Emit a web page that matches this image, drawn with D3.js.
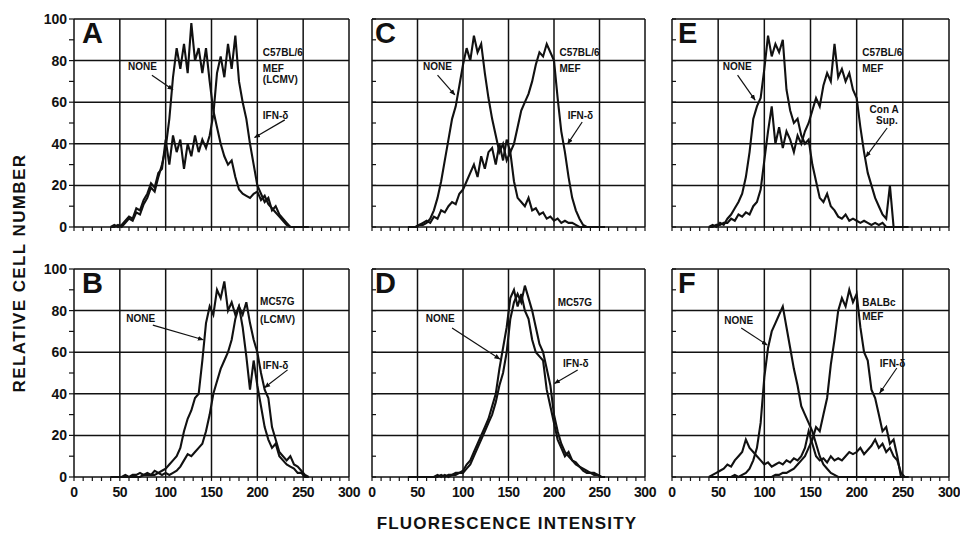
<!DOCTYPE html>
<html>
<head>
<meta charset="utf-8">
<script src="https://cdn.jsdelivr.net/npm/d3@7"></script>
<style>
  body { margin: 0; background: #fff; }
  text { font-family: "Liberation Sans", Arial, sans-serif; fill: #111; }
</style>
</head>
<body>
<svg id="chart" width="960" height="533"></svg>
<script>
var xStart = 40, xStep = 4;
var xTicks = [0, 50, 100, 150, 200, 250, 300];
var yTicks = [0, 20, 40, 60, 80, 100];

// A: C57BL/6 MEF (LCMV)
var aNone = [0,0,1,0,2, 4,3,7,6,11, 14,19,17,24,30, 38,52,72,86,76, 88,74,98,80,86,
             74,86,70,56,48, 40,34,30,32,24, 18,16,15,14,16, 17,13,15,11,9, 7,5,3,1,0, 0,0,0,0,0];
var aIfn  = [0,1,0,1,3, 5,4,9,8,13, 16,21,19,26,28, 42,30,44,36,42, 28,40,34,44,36,
             42,38,44,54,74, 82,72,88,76,92, 70,60,52,40,30, 20,16,12,14,8, 10,6,4,2,0, 0,0,0,0,0];
// C: C57BL/6 MEF
var cNone = [0,0,0,1,1, 2,4,8,14,22, 32,42,52,58,68, 78,86,80,92,84, 88,74,62,52,44,
             36,40,32,36,22, 14,12,10,14,8, 9,6,7,4,5, 3,4,2,3,2, 2,1,0,0,0, 0,0,0,0,0];
var cIfn  = [0,0,0,1,2, 3,2,5,4,8, 7,10,12,11,16, 18,22,26,30,24, 34,28,36,38,30,
             40,32,42,36,40, 48,56,60,64,70, 78,84,82,88,84, 80,62,46,36,24, 14,8,4,1,0, 0,0,0,0,0];
// E: C57BL/6 MEF, Con A supernatant
var eNone = [0,1,0,2,1, 4,6,9,12,16, 24,36,52,58,62, 76,92,82,88,84, 90,66,56,50,52,
             44,40,42,30,22, 14,12,16,10,8, 5,4,6,3,4, 3,2,3,2,1, 2,1,2,0,0, 0,0,0,0,0];
var eConA = [0,0,1,1,2, 2,4,3,6,5, 7,6,10,12,18, 32,46,58,40,48, 38,46,42,36,44,
             40,46,50,56,62, 58,68,74,70,88, 72,76,70,74,66, 62,48,36,26,20, 14,10,6,4,20, 0,0,0,0,0];
// B: MC57G (LCMV)
var bNone = [0,0,0,0,1, 0,1,1,2,1, 2,1,3,2,3, 4,6,8,10,14, 22,28,32,38,40,
             56,74,82,78,90, 86,94,80,84,78, 82,72,58,42,56, 44,34,24,18,14, 16,10,8,6,5, 4,2,2,0,0];
var bIfn  = [0,0,0,0,0, 0,0,0,0,1, 1,1,1,2,1, 2,1,2,3,5, 8,11,10,12,14,
             16,22,30,40,46, 52,56,60,66,76, 82,78,84,74,66, 60,50,42,38,24, 18,12,10,8,10, 6,5,3,1,0];
// D: MC57G
var dNone = [0,0,0,0,0, 0,0,0,1,0, 1,0,1,2,2, 3,6,8,12,16, 20,24,28,34,40,
             52,62,72,86,90, 82,88,80,76,66, 60,58,56,42,34, 26,18,14,10,12, 8,7,5,4,3, 2,2,1,0,0];
var dIfn  = [0,0,0,0,0, 0,0,0,0,1, 0,1,1,1,2, 2,4,6,10,14, 18,22,26,30,36,
             44,50,60,76,84, 88,84,92,86,80, 72,64,60,52,44, 30,22,16,12,10, 8,6,5,3,2, 2,1,1,0,0];
// F: BALBc MEF
var fNone = [0,0,0,0,0, 0,0,1,0,1, 2,4,8,14,26, 48,62,70,74,78, 82,72,62,52,44,
             34,30,26,22,16, 10,6,4,2,1, 0,0,0,0,0, 0,0,0,0,0, 0,0,0,0,0, 0,0,0,0,0];
var fIfn  = [0,0,0,0,0, 0,0,0,0,0, 0,0,0,0,0, 0,0,0,1,1, 2,2,3,4,6,
             8,10,14,18,24, 22,30,38,54,66, 80,86,82,90,84, 88,72,60,56,42, 38,30,22,24,16, 18,10,0,0,0];
var fLow  = [0,1,2,3,4, 6,5,8,10,12, 18,14,12,10,8, 6,7,5,6,7, 6,8,7,9,8,
             10,14,22,16,10, 8,9,7,10,8, 9,8,10,12,11, 12,14,11,13,15, 18,14,16,12,14, 10,8,2,0,0];

var cols = [{left: 74, w: 275, letterDx: 8}, {left: 372, w: 273, letterDx: 3}, {left: 672, w: 277, letterDx: 6}];
var rows = [{top: 19}, {top: 269}];
var panelH = 208;

// notes: text at data coords, arrows from/to data coords
var panels = [
  {id: "A", col: 0, row: 0, series: [aNone, aIfn],
   notes: [["C57BL/6", 206, 82], ["MEF", 206, 74.5], ["(LCMV)", 206, 69], ["NONE", 59, 75.5], ["IFN-δ", 206, 52]],
   arrows: [[85, 73, 108, 66], [230, 51.5, 197, 43]]},
  {id: "C", col: 1, row: 0, series: [cNone, cIfn],
   notes: [["C57BL/6", 206, 82], ["MEF", 206, 74.5], ["NONE", 56, 75.5], ["IFN-δ", 215, 52]],
   arrows: [[72, 73, 91, 63.5], [231, 50.5, 215, 40]]},
  {id: "E", col: 2, row: 0, series: [eNone, eConA],
   notes: [["C57BL/6", 206, 82], ["MEF", 206, 74.5], ["NONE", 55, 75.5], ["Con A", 214, 55], ["Sup.", 221, 49.5]],
   arrows: [[71, 73, 90, 61], [233, 47.6, 210, 33.7]]},
  {id: "B", col: 0, row: 1, series: [bNone, bIfn],
   notes: [["MC57G", 203, 82.7], ["(LCMV)", 203, 74], ["NONE", 57, 74.5], ["IFN-δ", 206, 52]],
   arrows: [[86, 73, 141, 66], [233, 51.5, 208, 43]]},
  {id: "D", col: 1, row: 1, series: [dNone, dIfn],
   notes: [["MC57G", 204, 82], ["NONE", 59, 74.5], ["IFN-δ", 210, 53]],
   arrows: [[88, 71.6, 140.5, 56.7], [226, 51.4, 200.5, 45]]},
  {id: "F", col: 2, row: 1, series: [fNone, fIfn, fLow],
   notes: [["BALBc", 206, 82], ["MEF", 206, 75.5], ["NONE", 56.5, 73.5], ["IFN-δ", 225, 53]],
   arrows: [[75, 71.6, 103, 63.5], [243.5, 52.4, 225, 40.4]]}
];

var svg = d3.select("#chart");

svg.append("defs").append("marker")
    .attr("id", "head")
    .attr("viewBox", "0 0 10 10")
    .attr("refX", 9).attr("refY", 5)
    .attr("markerWidth", 5).attr("markerHeight", 5)
    .attr("orient", "auto")
  .append("path")
    .attr("d", "M0,1L10,5L0,9Z")
    .attr("fill", "#111");

panels.forEach(function(p) {
    var c = cols[p.col], r = rows[p.row];
    var x = d3.scaleLinear().domain([0, 300]).range([0, c.w]);
    var y = d3.scaleLinear().domain([0, 100]).range([panelH, 0]);
    var g = svg.append("g").attr("transform", "translate(" + c.left + "," + r.top + ")");

    // grid
    g.selectAll(".vg").data(xTicks).enter().append("line")
        .attr("x1", function(d) { return x(d); }).attr("x2", function(d) { return x(d); })
        .attr("y1", 0).attr("y2", panelH)
        .attr("stroke", "#111").attr("stroke-width", 1.5);
    g.selectAll(".hg").data(yTicks).enter().append("line")
        .attr("x1", 0).attr("x2", c.w)
        .attr("y1", function(d) { return y(d); }).attr("y2", function(d) { return y(d); })
        .attr("stroke", "#111").attr("stroke-width", 1.5);

    // minor ticks every 10
    g.selectAll(".xt").data(d3.range(0, 301, 10)).enter().append("line")
        .attr("x1", function(d) { return x(d); }).attr("x2", function(d) { return x(d); })
        .attr("y1", panelH).attr("y2", panelH + 4)
        .attr("stroke", "#111").attr("stroke-width", 1.2);
    var tickDir = p.col === 0 ? -5 : 4;
    g.selectAll(".yt").data(d3.range(0, 101, 10)).enter().append("line")
        .attr("x1", 0).attr("x2", tickDir)
        .attr("y1", function(d) { return y(d); }).attr("y2", function(d) { return y(d); })
        .attr("stroke", "#111").attr("stroke-width", 1.2);

    if (p.col === 0) {
        g.selectAll(".yl").data(yTicks).enter().append("text")
            .attr("x", -7).attr("y", function(d) { return y(d); })
            .attr("dy", "0.36em").attr("text-anchor", "end")
            .attr("font-size", 14).attr("font-weight", "bold")
            .text(function(d) { return d; });
    }
    if (p.row === 1) {
        g.selectAll(".xl").data(xTicks).enter().append("text")
            .attr("x", function(d) { return x(d); }).attr("y", panelH + 20)
            .attr("text-anchor", "middle")
            .attr("font-size", 14).attr("font-weight", "bold")
            .attr("letter-spacing", -0.5)
            .text(function(d) { return d; });
    }

    // histograms
    var line = d3.line()
        .x(function(d, i) { return x(xStart + i * xStep); })
        .y(function(d) { return y(d); });
    g.selectAll(".curve").data(p.series).enter().append("path")
        .attr("d", line)
        .attr("fill", "none")
        .attr("stroke", "#111")
        .attr("stroke-width", 2.1)
        .attr("stroke-linejoin", "miter");

    // panel letter
    g.append("text")
        .attr("x", c.letterDx).attr("y", 24)
        .attr("font-size", 29).attr("font-weight", 900)
        .text(p.id);

    // labels and arrows
    g.selectAll(".note").data(p.notes).enter().append("text")
        .attr("x", function(d) { return x(d[1]); })
        .attr("y", function(d) { return y(d[2]); })
        .attr("font-size", 10).attr("font-weight", "bold")
        .text(function(d) { return d[0]; });
    g.selectAll(".arrow").data(p.arrows).enter().append("line")
        .attr("x1", function(d) { return x(d[0]); }).attr("y1", function(d) { return y(d[1]); })
        .attr("x2", function(d) { return x(d[2]); }).attr("y2", function(d) { return y(d[3]); })
        .attr("stroke", "#111").attr("stroke-width", 1.2)
        .attr("marker-end", "url(#head)");
});

svg.append("text")
    .attr("transform", "translate(25,273) rotate(-90)")
    .attr("text-anchor", "middle")
    .attr("font-size", 17).attr("font-weight", "bold")
    .attr("letter-spacing", 1.4)
    .text("RELATIVE CELL NUMBER");

svg.append("text")
    .attr("x", 507).attr("y", 529)
    .attr("text-anchor", "middle")
    .attr("font-size", 17).attr("font-weight", "bold")
    .attr("letter-spacing", 1.2)
    .text("FLUORESCENCE INTENSITY");
</script>
</body>
</html>
